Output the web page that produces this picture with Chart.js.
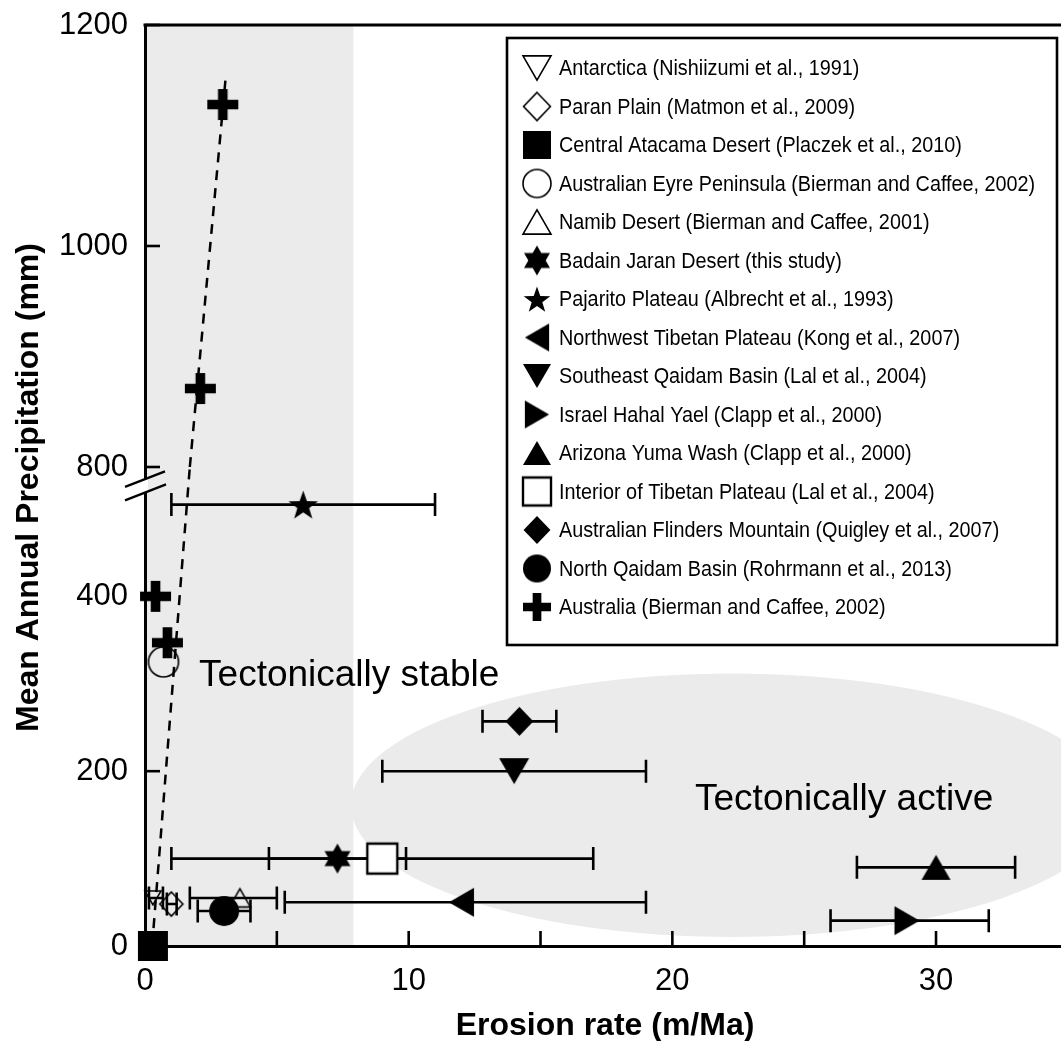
<!DOCTYPE html>
<html lang="en">
<head>
<meta charset="UTF-8">
<title>Erosion rate vs Mean Annual Precipitation</title>
<script src="https://cdn.jsdelivr.net/npm/chart.js@4"></script>
<style>
  html, body { margin: 0; padding: 0; background: #fff; }
  #wrap { width: 1061px; height: 1041px; }
</style>
</head>
<body>
<div id="wrap"><canvas id="chart" width="1061" height="1041"></canvas></div>
<script>
// ---- data ----
const siteNames = [
  'Antarctica (Nishiizumi et al., 1991)',
  'Paran Plain (Matmon et al., 2009)',
  'Central Atacama Desert (Placzek et al., 2010)',
  'Australian Eyre Peninsula (Bierman and Caffee, 2002)',
  'Namib Desert (Bierman and Caffee, 2001)',
  'Badain Jaran Desert (this study)',
  'Pajarito Plateau (Albrecht et al., 1993)',
  'Northwest Tibetan Plateau (Kong et al., 2007)',
  'Southeast Qaidam Basin (Lal et al., 2004)',
  'Israel Hahal Yael (Clapp et al., 2000)',
  'Arizona Yuma Wash (Clapp et al., 2000)',
  'Interior of Tibetan Plateau (Lal et al., 2004)',
  'Australian Flinders Mountain (Quigley et al., 2007)',
  'North Qaidam Basin (Rohrmann et al., 2013)',
  'Australia (Bierman and Caffee, 2002)'
];
// erosion rate (m/Ma), one list per site
const erosionRate = [[0.3], [1.0], [0.3], [0.7], [3.6], [7.3], [6.0], [12.0], [14.0], [28.9], [30.0], [9.0], [14.2], [3.0], [0.4, 0.85, 2.1, 2.95]];
// mean annual precipitation (mm)
const precipitation = [[55], [48], [0], [325], [55], [100], [505], [50], [200], [29], [90], [100], [257], [40], [400, 347, 871, 1128]];
// erosion rate error range
const rateLow  = [[0.15], [0.83], [null], [null], [1.7], [1.0], [1.0], [5.3], [9.0], [26.0], [27.0], [4.7], [12.8], [2.0], [null, null, null, null]];
const rateHigh = [[0.68], [1.2], [null], [null], [5.0], [9.9], [11.0], [19.0], [19.0], [32.0], [33.0], [17.0], [15.6], [4.0], [null, null, null, null]];
// dashed trend line through the Australian sites (crosses the axis break)
const trendRate   = [0.27, 1.70, 1.70, 3.07];
const trendPrecip = [0, 548, 800, 1155];

// axis settings
const X_MAX = 34.74;
const LOWER_MAX = 548;          // lower y segment 0..548
const UPPER_MIN = 800, UPPER_MAX = 1200;
const xTickValues = [0, 5, 10, 15, 20, 25, 30];
const lowerTickValues = [0, 200, 400];
const upperTickValues = [800, 1000, 1200];

// marker styles
const markerShape = ['triDown', 'diamond', 'square', 'circle', 'triUp', 'hexagram', 'star', 'triLeft', 'triDown', 'triRight', 'triUp', 'square', 'diamond', 'circle', 'cross'];
const markerFill  = ['none', 'none', '#000', 'none', 'none', '#000', '#000', '#000', '#000', '#000', '#000', '#fff', '#000', '#000', '#000'];
const markerSize  = [16, 24, 30, 30, 21, 30, 31, 29, 30, 29, 29, 30, 29, 30, 31];

const FONT = '"Liberation Sans", Arial, Helvetica, sans-serif';

function makeMarker(shape, s, fill) {
  const pad = 3;
  const c = document.createElement('canvas');
  c.width = c.height = Math.ceil(s + pad * 2);
  const g = c.getContext('2d');
  const m = c.width / 2;
  const h = s * 0.866;
  g.beginPath();
  if (shape === 'circle') {
    g.arc(m, m, s / 2, 0, Math.PI * 2);
  } else if (shape === 'square') {
    g.rect(m - s / 2, m - s / 2, s, s);
  } else if (shape === 'diamond') {
    g.moveTo(m, m - s / 2); g.lineTo(m + s * 0.48, m); g.lineTo(m, m + s / 2); g.lineTo(m - s * 0.48, m); g.closePath();
  } else if (shape === 'triUp') {
    g.moveTo(m, m - h / 2); g.lineTo(m + s / 2, m + h / 2); g.lineTo(m - s / 2, m + h / 2); g.closePath();
  } else if (shape === 'triDown') {
    g.moveTo(m, m + h / 2); g.lineTo(m + s / 2, m - h / 2); g.lineTo(m - s / 2, m - h / 2); g.closePath();
  } else if (shape === 'triLeft') {
    g.moveTo(m - h / 2, m); g.lineTo(m + h / 2, m - s / 2); g.lineTo(m + h / 2, m + s / 2); g.closePath();
  } else if (shape === 'triRight') {
    g.moveTo(m + h / 2, m); g.lineTo(m - h / 2, m - s / 2); g.lineTo(m - h / 2, m + s / 2); g.closePath();
  } else if (shape === 'hexagram') {
    const r = s / 2;
    for (const start of [-90, 90]) {
      for (let k = 0; k < 3; k++) {
        const a = (start + k * 120) * Math.PI / 180;
        const px = m + r * Math.cos(a), py = m + r * Math.sin(a);
        if (k === 0) g.moveTo(px, py); else g.lineTo(px, py);
      }
      g.closePath();
    }
  } else if (shape === 'star') {
    const r = s / 2, ri = r * 0.4;
    for (let k = 0; k < 10; k++) {
      const a = (-90 + k * 36) * Math.PI / 180;
      const rr = k % 2 ? ri : r;
      const px = m + rr * Math.cos(a), py = m + 1.5 + rr * Math.sin(a);
      if (k === 0) g.moveTo(px, py); else g.lineTo(px, py);
    }
    g.closePath();
  } else if (shape === 'cross') {
    const t = s * 0.31;
    g.rect(m - s / 2, m - t / 2, s, t);
    g.rect(m - t / 2, m - s / 2, t, s);
  }
  if (fill === '#000') {
    g.fillStyle = '#000';
    g.fill('nonzero');
  } else {
    if (fill !== 'none') { g.fillStyle = fill; g.fill(); }
    g.strokeStyle = '#000';
    g.lineWidth = shape === 'square' ? 2.4 : 1.6;
    g.stroke();
  }
  return c;
}

const plotMarkers = siteNames.map((_, i) => makeMarker(markerShape[i], markerSize[i], markerFill[i]));
const legendMarkers = siteNames.map((_, i) => makeMarker(markerShape[i], markerShape[i] === 'hexagram' ? 30 : 28, markerFill[i]));

const datasets = [];
siteNames.forEach((name, i) => {
  const groups = { y: [], y2: [] };
  erosionRate[i].forEach((r, j) => {
    const axis = precipitation[i][j] >= UPPER_MIN ? 'y2' : 'y';
    groups[axis].push({ x: r, y: precipitation[i][j], lo: rateLow[i][j], hi: rateHigh[i][j] });
  });
  ['y', 'y2'].forEach(axis => {
    const pts = groups[axis];
    if (!pts.length) return;
    datasets.push({
      label: name,
      yAxisID: axis,
      data: pts.map(p => ({ x: p.x, y: p.y })),
      errLow: pts.map(p => p.lo),
      errHigh: pts.map(p => p.hi),
      pointStyle: plotMarkers[i],
      pointRadius: markerSize[i] / 2,
      clip: false
    });
  });
});
// trend line: lower and upper segment
[[0, 2, 'y'], [2, 4, 'y2']].forEach(([a, b, axis]) => {
  datasets.push({
    label: 'trend',
    yAxisID: axis,
    data: trendRate.slice(a, b).map((r, k) => ({ x: r, y: trendPrecip[a + k] })),
    showLine: true,
    borderColor: '#000',
    borderWidth: 2.5,
    borderDash: [10, 8],
    pointRadius: 0,
    clip: false
  });
});

const decor = {
  id: 'decor',
  beforeDraw(chart) {
    const { ctx, chartArea: a, scales } = chart;
    const x = scales.x, yl = scales.y;
    ctx.save();
    ctx.fillStyle = '#fff';
    ctx.fillRect(0, 0, chart.width, chart.height);
    ctx.fillStyle = '#ebebeb';
    // tectonically stable band
    const bx = x.getPixelForValue(7.9);
    ctx.fillRect(a.left, a.top, bx - a.left, a.bottom - a.top);
    // tectonically active ellipse
    const cx = x.getPixelForValue(22.26), cy = yl.getPixelForValue(161);
    const rx = x.getPixelForValue(22.26 + 14.45) - cx;
    const ry = cy - yl.getPixelForValue(161 + 150.7);
    ctx.beginPath();
    ctx.ellipse(cx, cy, rx, ry, 0, 0, Math.PI * 2);
    ctx.fill();
    ctx.fillStyle = '#000';
    ctx.font = '37px ' + FONT;
    ctx.textAlign = 'left';
    ctx.textBaseline = 'alphabetic';
    ctx.fillText('Tectonically stable', x.getPixelForValue(2.05), yl.getPixelForValue(297));
    ctx.fillText('Tectonically active', x.getPixelForValue(20.86), yl.getPixelForValue(156));
    ctx.restore();
  },
  beforeDatasetsDraw(chart) {
    const { ctx, scales } = chart;
    const x = scales.x;
    const CAP = 11.5;
    ctx.save();
    ctx.strokeStyle = '#000';
    ctx.lineWidth = 2.6;
    chart.data.datasets.forEach(ds => {
      if (!ds.errLow) return;
      const ys = scales[ds.yAxisID];
      ds.data.forEach((p, i) => {
        const lo = ds.errLow[i], hi = ds.errHigh[i];
        if (lo == null || hi == null) return;
        const py = ys.getPixelForValue(p.y);
        const x0 = x.getPixelForValue(lo), x1 = x.getPixelForValue(hi);
        ctx.beginPath();
        ctx.moveTo(x0, py); ctx.lineTo(x1, py);
        ctx.moveTo(x0, py - CAP); ctx.lineTo(x0, py + CAP);
        ctx.moveTo(x1, py - CAP); ctx.lineTo(x1, py + CAP);
        ctx.stroke();
      });
    });
    ctx.restore();
  },
  afterDraw(chart) {
    const { ctx, chartArea: a, scales } = chart;
    ctx.save();
    ctx.strokeStyle = '#000';
    ctx.fillStyle = '#000';
    // top frame line
    ctx.lineWidth = 3;
    ctx.beginPath(); ctx.moveTo(a.left - 1.5, a.top); ctx.lineTo(a.right, a.top); ctx.stroke();
    // inward tick marks
    ctx.lineWidth = 2.6;
    const TL = 15;
    scales.x.ticks.forEach(t => {
      const px = scales.x.getPixelForValue(t.value);
      ctx.beginPath(); ctx.moveTo(px, a.bottom); ctx.lineTo(px, a.bottom - TL); ctx.stroke();
    });
    ['y', 'y2'].forEach(id => {
      scales[id].ticks.forEach(t => {
        const py = scales[id].getPixelForValue(t.value);
        ctx.beginPath(); ctx.moveTo(a.left, py); ctx.lineTo(a.left + TL, py); ctx.stroke();
      });
    });
    // axis break marks
    const yb = scales.y.getPixelForValue(527);
    ctx.fillStyle = '#fff';
    ctx.fillRect(a.left - 3, yb - 6, 6, 13);
    ctx.lineWidth = 2.4;
    ctx.beginPath();
    ctx.moveTo(a.left - 20, yb + 1.5); ctx.lineTo(a.left + 20, yb - 14);
    ctx.moveTo(a.left - 20, yb + 15); ctx.lineTo(a.left + 21, yb - 1);
    ctx.stroke();
    // axis titles
    ctx.fillStyle = '#000';
    ctx.font = 'bold 32px ' + FONT;
    ctx.textAlign = 'center';
    ctx.textBaseline = 'alphabetic';
    ctx.fillText('Erosion rate (m/Ma)', 605, 1035);
    ctx.save();
    ctx.translate(38, (a.top + a.bottom) / 2 + 2);
    ctx.rotate(-Math.PI / 2);
    ctx.fillText('Mean Annual Precipitation (mm)', 0, 0);
    ctx.restore();
    // legend box
    const L = { x: 507, y: 38, w: 550, h: 607 };
    ctx.fillStyle = '#fff';
    ctx.fillRect(L.x, L.y, L.w, L.h);
    ctx.lineWidth = 2.6;
    ctx.strokeRect(L.x, L.y, L.w, L.h);
    ctx.fillStyle = '#000';
    ctx.font = '22px ' + FONT;
    ctx.textAlign = 'left';
    ctx.textBaseline = 'middle';
    siteNames.forEach((name, i) => {
      const cy = 68 + 38.5 * i;
      const m = legendMarkers[i];
      ctx.drawImage(m, 537 - m.width / 2, cy - m.height / 2);
      ctx.save();
      ctx.translate(559, cy + 1);
      ctx.scale(0.9, 1);
      ctx.fillText(name, 0, 0);
      ctx.restore();
    });
    ctx.restore();
  }
};

Chart.defaults.color = '#000';
Chart.defaults.font.family = FONT;

const tickFont = { size: 31, family: FONT };
// drop the label-driven padding so the plot area sits exactly where the figure has it
function noPad(s) { s.paddingTop = 0; s.paddingBottom = 0; s.paddingLeft = 0; s.paddingRight = 0; }

new Chart(document.getElementById('chart'), {
  type: 'scatter',
  data: { datasets },
  options: {
    responsive: false,
    animation: false,
    devicePixelRatio: 1,
    events: [],
    layout: { autoPadding: false, padding: { top: 25, left: 0, right: 0, bottom: 0 } },
    plugins: { legend: { display: false }, tooltip: { enabled: false } },
    scales: {
      x: {
        type: 'linear',
        position: 'bottom',
        min: 0,
        max: X_MAX,
        afterFit: s => { s.height = 95; noPad(s); },
        afterBuildTicks: s => { s.ticks = xTickValues.map(v => ({ value: v })); },
        ticks: { font: tickFont, color: '#000', padding: 17, maxRotation: 0, autoSkip: false,
                 callback: v => (v % 10 === 0 ? String(v) : '') },
        grid: { display: false, drawTicks: false },
        border: { display: true, width: 3, color: '#000' }
      },
      y: {
        type: 'linear',
        position: 'left',
        stack: 'precip',
        stackWeight: 479,
        min: 0,
        max: LOWER_MAX,
        afterFit: s => { s.width = 145; noPad(s); },
        afterBuildTicks: s => { s.ticks = lowerTickValues.map(v => ({ value: v })); },
        ticks: { font: tickFont, color: '#000', padding: 17, autoSkip: false, callback: v => String(v) },
        grid: { display: false, drawTicks: false },
        border: { display: true, width: 3, color: '#000' }
      },
      y2: {
        type: 'linear',
        position: 'left',
        stack: 'precip',
        stackWeight: 442,
        min: UPPER_MIN,
        max: UPPER_MAX,
        afterFit: s => { s.width = 145; noPad(s); },
        afterBuildTicks: s => { s.ticks = upperTickValues.map(v => ({ value: v })); },
        ticks: { font: tickFont, color: '#000', padding: 17, autoSkip: false, callback: v => String(v) },
        grid: { display: false, drawTicks: false },
        border: { display: true, width: 3, color: '#000' }
      }
    }
  },
  plugins: [decor]
});
</script>
</body>
</html>
